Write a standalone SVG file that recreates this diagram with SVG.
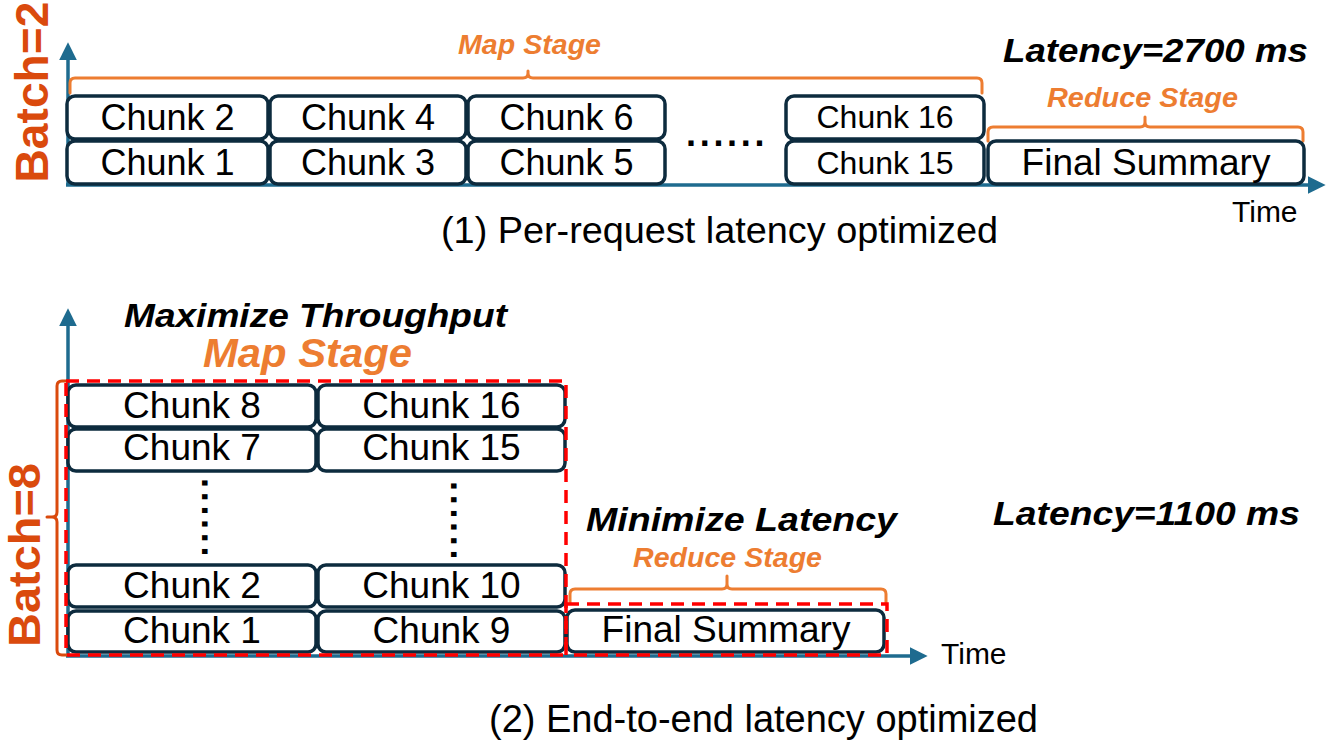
<svg xmlns="http://www.w3.org/2000/svg" width="1329" height="747" viewBox="0 0 1329 747">
<style>
.bg{fill:#ffffff}
.box{fill:#ffffff;stroke:#0D2B3E;stroke-width:3.5}
.axis{stroke:#1E6B8F;stroke-width:3.5;fill:none}
.dash{fill:none;stroke:#FF0000;stroke-width:3.5;stroke-dasharray:13 8}
.brk{fill:none;stroke:#ED7D31;stroke-width:3;stroke-linejoin:round;stroke-linecap:round}
.brkb{fill:none;stroke:#DA4A0D;stroke-width:3;stroke-linejoin:round;stroke-linecap:round}
text{font-family:"Liberation Sans",Arial,sans-serif;fill:#000000}
.lbl{text-anchor:middle}
.stage{font-weight:bold;font-style:italic;fill:#ED7D31}
.bi{font-weight:bold;font-style:italic}
.batch{font-weight:bold;fill:#DA4A0D;text-anchor:middle}
.dots{font-weight:bold;font-size:36px;letter-spacing:3.7px}
</style>
<defs>
<marker id="arr" markerUnits="userSpaceOnUse" markerWidth="18" markerHeight="18" viewBox="0 0 17 17" refX="6" refY="8.5" orient="auto">
<path d="M0,0 L17,8.5 L0,17 z" fill="#1E6B8F"/>
</marker>
</defs>
<rect class="bg" x="0" y="0" width="1329" height="747"/>

<g id="connectors">
<line class="axis" x1="68" y1="186" x2="68" y2="54" marker-end="url(#arr)"/>
<line class="axis" x1="66" y1="185" x2="1314" y2="185" marker-end="url(#arr)"/>
<line class="axis" x1="68" y1="656" x2="68" y2="320" marker-end="url(#arr)"/>
<line class="axis" x1="66" y1="656" x2="916" y2="656" marker-end="url(#arr)"/>
</g>

<g id="top-panel-labels">
<text class="batch" transform="translate(48,92) rotate(-90)" font-size="46" textLength="181" lengthAdjust="spacingAndGlyphs">Batch=2</text>
<path class="brk" d="M70,93 L70,83 Q70,78 75,78 L523,78 Q528,78 528,73 L528,71 M528,73 Q528,78 533,78 L977,78 Q982,78 982,83 L982,93"/>
<text class="stage" x="458" y="54" font-size="28" textLength="143" lengthAdjust="spacingAndGlyphs">Map Stage</text>
<text class="bi" x="1003" y="62" font-size="33" textLength="305" lengthAdjust="spacingAndGlyphs">Latency=2700 ms</text>
<path class="brk" d="M988,141 L988,132 Q988,127 993,127 L1140,127 Q1145,127 1145,122 L1145,117 M1145,122 Q1145,127 1150,127 L1298,127 Q1303,127 1303,132 L1303,141"/>
<text class="stage" x="1047" y="107" font-size="27" textLength="191" lengthAdjust="spacingAndGlyphs">Reduce Stage</text>
<text x="1232" y="222" font-size="30">Time</text>
<text x="441" y="243" font-size="37" textLength="557" lengthAdjust="spacingAndGlyphs">(1) Per-request latency optimized</text>
<text class="dots" x="686" y="146">......</text>
</g>

<g id="chunk2-top"><rect class="box" x="67" y="96" width="201" height="43" rx="8"/><text class="lbl" x="167.5" y="130" font-size="36">Chunk 2</text></g>
<g id="chunk1-top"><rect class="box" x="67" y="141" width="201" height="43" rx="8"/><text class="lbl" x="167.5" y="175" font-size="36">Chunk 1</text></g>
<g id="chunk4-top"><rect class="box" x="270" y="96" width="196" height="43" rx="8"/><text class="lbl" x="368" y="130" font-size="36">Chunk 4</text></g>
<g id="chunk3-top"><rect class="box" x="270" y="141" width="196" height="43" rx="8"/><text class="lbl" x="368" y="175" font-size="36">Chunk 3</text></g>
<g id="chunk6-top"><rect class="box" x="468" y="96" width="197" height="43" rx="8"/><text class="lbl" x="566.5" y="130" font-size="36">Chunk 6</text></g>
<g id="chunk5-top"><rect class="box" x="468" y="141" width="197" height="43" rx="8"/><text class="lbl" x="566.5" y="175" font-size="36">Chunk 5</text></g>
<g id="chunk16-top"><rect class="box" x="786" y="96" width="198" height="43" rx="8"/><text class="lbl" x="885" y="128" font-size="32">Chunk 16</text></g>
<g id="chunk15-top"><rect class="box" x="786" y="141" width="198" height="43" rx="8"/><text class="lbl" x="885" y="174" font-size="32">Chunk 15</text></g>
<g id="final-top"><rect class="box" x="988" y="141" width="316" height="43" rx="8"/><text class="lbl" x="1146" y="175" font-size="37">Final Summary</text></g>

<g id="bottom-panel-labels">
<text class="batch" transform="translate(40,555) rotate(-90)" font-size="45" textLength="184" lengthAdjust="spacingAndGlyphs">Batch=8</text>
<path class="brkb" d="M67,381 L62,381 Q57,381 57,386 L57,512 Q57,517 52,517 L47,517 M52,517 Q57,517 57,522 L57,650 Q57,655 62,655 L67,655"/>
<text class="bi" x="124" y="327" font-size="33" textLength="383" lengthAdjust="spacingAndGlyphs">Maximize Throughput</text>
<text class="stage" x="203" y="367" font-size="41" textLength="209" lengthAdjust="spacingAndGlyphs">Map Stage</text>
<text class="bi" x="586" y="531" font-size="34" textLength="311" lengthAdjust="spacingAndGlyphs">Minimize Latency</text>
<text class="bi" x="993" y="525" font-size="33" textLength="307" lengthAdjust="spacingAndGlyphs">Latency=1100 ms</text>
<path class="brk" d="M570,603 L570,594 Q570,589 575,589 L722,589 Q727,589 727,584 L727,576 M727,584 Q727,589 732,589 L881,589 Q886,589 886,594 L886,603"/>
<text class="stage" x="633" y="567" font-size="28" textLength="189" lengthAdjust="spacingAndGlyphs">Reduce Stage</text>
<text x="941" y="664" font-size="30">Time</text>
<text x="489" y="732" font-size="38" textLength="549" lengthAdjust="spacingAndGlyphs">(2) End-to-end latency optimized</text>
<text class="dots" transform="translate(201.5,478) rotate(90)" x="0" y="0">......</text>
<text class="dots" transform="translate(450.5,481) rotate(90)" x="0" y="0">......</text>
</g>

<g id="chunk8-bot"><rect class="box" x="68" y="385" width="248" height="42" rx="8"/><text class="lbl" x="192" y="418" font-size="37">Chunk 8</text></g>
<g id="chunk16-bot"><rect class="box" x="318" y="385" width="247" height="42" rx="8"/><text class="lbl" x="441.5" y="418" font-size="37">Chunk 16</text></g>
<g id="chunk7-bot"><rect class="box" x="68" y="429" width="248" height="42" rx="8"/><text class="lbl" x="192" y="460" font-size="37">Chunk 7</text></g>
<g id="chunk15-bot"><rect class="box" x="318" y="429" width="247" height="42" rx="8"/><text class="lbl" x="441.5" y="460" font-size="37">Chunk 15</text></g>
<g id="chunk2-bot"><rect class="box" x="68" y="565" width="248" height="42" rx="8"/><text class="lbl" x="192" y="598" font-size="37">Chunk 2</text></g>
<g id="chunk10-bot"><rect class="box" x="318" y="565" width="247" height="42" rx="8"/><text class="lbl" x="441.5" y="598" font-size="37">Chunk 10</text></g>
<g id="chunk1-bot"><rect class="box" x="68" y="611" width="248" height="41" rx="8"/><text class="lbl" x="192" y="643" font-size="37">Chunk 1</text></g>
<g id="chunk9-bot"><rect class="box" x="318" y="611" width="247" height="41" rx="8"/><text class="lbl" x="441.5" y="643" font-size="37">Chunk 9</text></g>
<g id="final-bot"><rect class="box" x="567" y="610" width="317" height="42" rx="8"/><text class="lbl" x="726" y="642" font-size="37">Final Summary</text></g>

<g id="stage-regions">
<rect class="dash" x="66" y="381" width="500" height="274"/>
<rect class="dash" x="566" y="604" width="321" height="51"/>
</g>
</svg>
